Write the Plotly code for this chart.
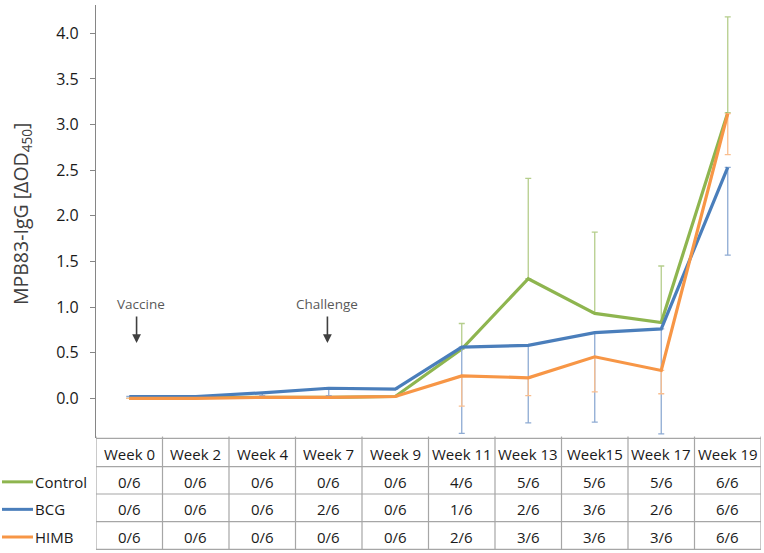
import plotly.graph_objects as go

weeks = ["Week 0", "Week 2", "Week 4", "Week 7", "Week 9", "Week 11", "Week 13", "Week15", "Week 17", "Week 19"]
groups = ["Control", "BCG", "HIMB"]

control = [0.00, 0.01, 0.01, 0.01, 0.02, 0.54, 1.31, 0.93, 0.83, 3.13]
bcg = [0.02, 0.02, 0.06, 0.11, 0.10, 0.56, 0.58, 0.72, 0.76, 2.53]
himb = [0.00, 0.00, 0.01, 0.01, 0.02, 0.245, 0.225, 0.455, 0.305, 3.12]

control_err_plus = [0, 0, 0, 0, 0, 0.28, 1.10, 0.89, 0.62, 1.05]
bcg_err_minus = [0, 0, 0.03, 0.08, 0, 0.945, 0.85, 0.98, 1.15, 0.96]
himb_err_minus = [0, 0, 0, 0, 0, 0.33, 0.195, 0.385, 0.255, 0.45]

control_pos = ["0/6", "0/6", "0/6", "0/6", "0/6", "4/6", "5/6", "5/6", "5/6", "6/6"]
bcg_pos = ["0/6", "0/6", "0/6", "2/6", "0/6", "1/6", "2/6", "3/6", "2/6", "6/6"]
himb_pos = ["0/6", "0/6", "0/6", "0/6", "0/6", "2/6", "3/6", "3/6", "3/6", "6/6"]

colors = ["#8EB54F", "#4A7EBB", "#F79646"]
err_colors = ["#B5CE8C", "#8EABD3", "#F9BE8F"]

W, H = 764, 553
L, R, T, B = 96, 3, 5, 115
PW, PH = W - L - R, H - T - B
FONT = "Open Sans"


def py(px):
    return (H - B - px) / PH


def pxx(px):
    return (px - L) / PW


x_idx = list(range(len(weeks)))
fig = go.Figure()

series = [
    (control, dict(type="data", array=control_err_plus, arrayminus=[0] * 10, symmetric=False)),
    (bcg, dict(type="data", array=[0] * 10, arrayminus=bcg_err_minus, symmetric=False)),
    (himb, dict(type="data", array=[0] * 10, arrayminus=himb_err_minus, symmetric=False)),
]
for (vals, err), name, c, ec in zip(series, groups, colors, err_colors):
    err.update(color=ec, thickness=1.3, width=3)
    fig.add_trace(go.Scatter(x=x_idx, y=vals, name=name, mode="lines",
                             line=dict(color=c, width=3.2), error_y=err,
                             showlegend=False))

shapes = []
annotations = []
grid = "#A6A6A6"
row_px = [438.3, 466.7, 494, 521.7, 549.3]
for rp in row_px:
    shapes.append(dict(type="line", xref="x", yref="paper", x0=-0.5, x1=len(weeks) - 0.5,
                       y0=py(rp), y1=py(rp), line=dict(color=grid, width=1.2)))
for k in range(len(weeks) + 1):
    shapes.append(dict(type="line", xref="x", yref="paper", x0=k - 0.5, x1=k - 0.5,
                       y0=py(row_px[0]) + 0.004, y1=py(row_px[-1]), line=dict(color=grid, width=1.2)))

txt_color = "#1a1a1a"
rows = [weeks, control_pos, bcg_pos, himb_pos]
for r, row in enumerate(rows):
    yc = py((row_px[r] + row_px[r + 1]) / 2 + 1.5)
    for i, t in enumerate(row):
        annotations.append(dict(x=i, y=yc, xref="x", yref="paper", text=t, showarrow=False,
                                font=dict(family=FONT, size=15, color=txt_color),
                                xanchor="center", yanchor="middle"))

# legend keys beside the table
for r, (name, c) in enumerate(zip(groups, colors)):
    yc = py((row_px[r + 1] + row_px[r + 2]) / 2 + 1.5)
    shapes.append(dict(type="line", xref="paper", yref="paper", x0=pxx(2), x1=pxx(33),
                       y0=yc, y1=yc, line=dict(color=c, width=3)))
    annotations.append(dict(x=pxx(33), y=yc, xref="paper", yref="paper", text=name, showarrow=False,
                            font=dict(family=FONT, size=15, color=txt_color),
                            xanchor="left", yanchor="middle"))

# event markers
for label, xi, xoff, toff in [("Vaccine", 0, 0.11, 0.07), ("Challenge", 3, -0.02, 0.0)]:
    annotations.append(dict(x=xi + xoff + toff, y=py(304), xref="x", yref="paper",
                            text=label, showarrow=False,
                            font=dict(family=FONT, size=13.5, color="#595959"),
                            xanchor="center", yanchor="middle"))
    annotations.append(dict(x=xi + xoff, y=py(343), xref="x", yref="paper", ax=0, ay=-28,
                            axref="pixel", ayref="pixel", text="", showarrow=True,
                            arrowhead=2, arrowsize=1.1, arrowwidth=1.6, arrowcolor="#404040"))

# y-axis title
annotations.append(dict(x=pxx(22), y=py(214), xref="paper", yref="paper",
                        text="MPB83-IgG [ΔOD<sub>450</sub>]", textangle=-90, showarrow=False,
                        font=dict(family=FONT, size=19.5, color="#404040"),
                        xanchor="center", yanchor="middle"))

fig.update_layout(
    width=W, height=H,
    margin=dict(l=L, r=R, t=T, b=B, pad=0),
    paper_bgcolor="white", plot_bgcolor="white",
    xaxis=dict(range=[-0.5, len(weeks) - 0.5], showticklabels=False, showgrid=False,
               zeroline=False, showline=False, ticks=""),
    yaxis=dict(range=[-0.435, 4.31], tickvals=[0, 0.5, 1, 1.5, 2, 2.5, 3, 3.5, 4],
               ticktext=["0.0", "0.5", "1.0", "1.5", "2.0", "2.5", "3.0", "3.5", "4.0"],
               showgrid=False, zeroline=False, showline=True, linecolor="#868686", linewidth=1.2,
               ticks="outside", ticklen=5, tickcolor="#868686", ticklabelstandoff=8,
               tickfont=dict(family=FONT, size=16, color="#1a1a1a")),
    shapes=shapes, annotations=annotations,
)

fig.write_html("out.html", config={"displayModeBar": False},
               post_script="document.body.style.margin='0';document.body.style.overflow='hidden';")
